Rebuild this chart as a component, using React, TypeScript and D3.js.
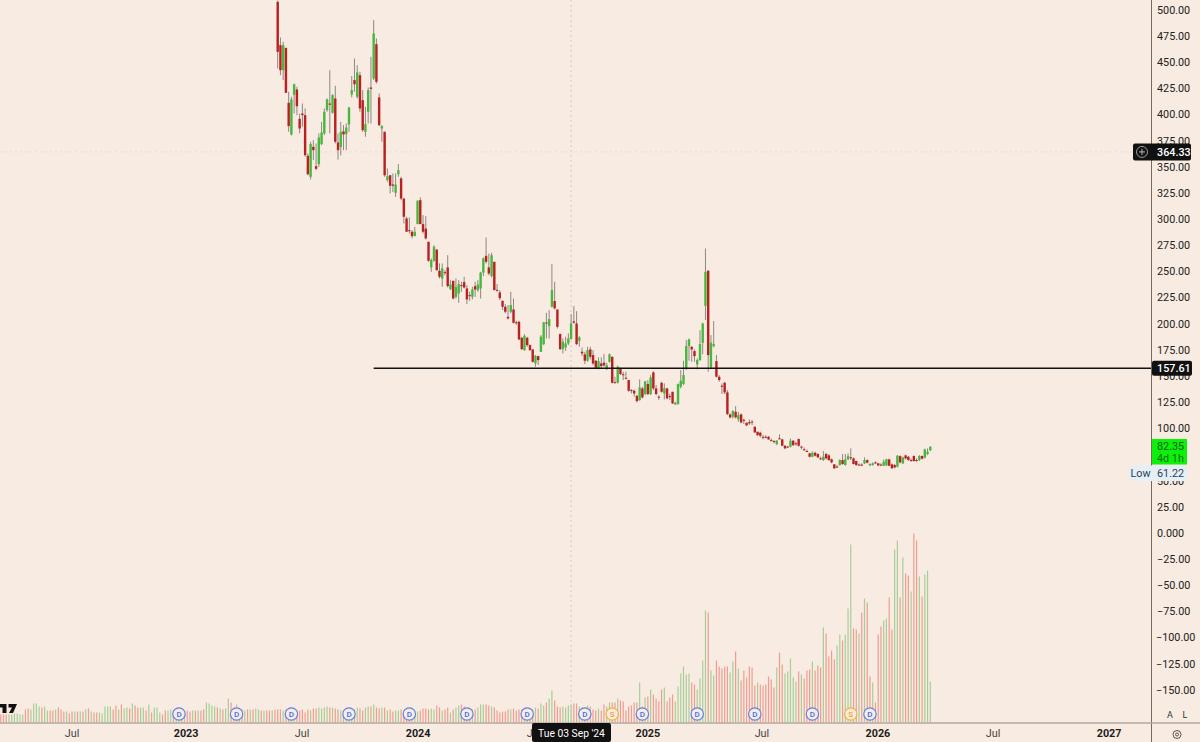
import React from "react";
import * as d3 from "d3";

const opens = [
507.8,466.4,442.5,463.8,411.3,381,419,424,396,401,
399.5,360.6,340.5,369.2,350.7,352.7,371.8,382,404.3,410.6,
401.7,415.4,373.4,369,384,381.3,390.6,419.2,433,417,
437.7,413.8,383.6,402.7,425.9,434.5,467.3,416.4,386.7,383.6,
337.4,342,333.2,325.2,343,339,319.8,300.7,289.5,288,
283.8,295.3,318.2,295.3,291,278.4,253.9,260.2,271,250.7,
243.3,249.4,253.9,233.1,241.1,225.8,229,237,239.8,233.8,
227.4,225.8,236,232.2,233.8,249,265,253.9,245.6,259.3,
232.5,230,222,216.3,206.7,211.5,213.7,201.5,201.9,186.6,
174.8,186.6,179.6,175.5,162.1,169.1,173.2,180.6,201.3,197.8,
216.3,221.7,213.7,190.2,175.8,177.4,181.2,185.4,202.3,200.3,
183.8,173.3,170.7,164.7,175.5,170.1,164.7,157.3,162.1,162.8,
157.3,163.7,168.5,144.2,143.6,157.3,151.8,148.4,146.2,136.6,
136,131.2,127.1,138.2,132.8,142.4,132.8,153.5,138.2,130.3,
143.6,133.4,138.2,130.9,135,122.9,123.3,139.8,142.4,157.3,
178.7,178,173.9,161.2,165.3,181.9,217.2,250.7,158.3,178.7,
164.3,149.4,140.8,143.6,134.4,113.4,111.1,115.9,108.6,113.4,
108.2,105.4,106,106.5,101.6,96.8,95.9,92,92,
92,89,87.9,85,90.5,89.5,83.4,82.6,82.5,88.2,
85.8,89.8,82.6,80,78.4,76.1,72.9,76.7,75.5,71.4,
69.7,75.5,74.2,70.4,65.6,63.5,65,69.7,65,70.4,
72.4,71.3,68.8,65.4,65.4,66.6,69.7,64.6,65,67.5,
66.6,65.4,64.3,64.6,70.4,65.6,65,63.4,73.5,66.6,
74.2,72.9,69.8,73.6,69.8,69.7,73.6,72,75.5,79,
];
const closes = [
460,442.5,466.4,420.8,389,414.5,429,408,386.7,399.5,
361.2,343,371.8,366,348.2,378.1,382.9,402.7,414.5,409.4,
418.6,374,366,383.5,381,387.7,406.8,423.4,429,440.3,
405.9,385.1,390.9,423.4,424.6,477.5,431.3,389.9,389,342,
341,332,332,333.2,346.9,319.8,302.3,288,288.6,283.8,
288,317.6,295.3,288,281.6,260.2,260.9,273.6,251.3,244.9,
252.9,248.8,236,237.6,224.2,235.4,237.9,236,234.7,223.3,
226.5,232.8,232.8,237.6,249,262.5,259.3,248.1,265.6,232.2,
232,224.5,216.3,211.5,205.1,217.9,201,201,185,175.8,
188.5,179.6,174.8,163.7,169.4,165.3,187.6,201.3,200.3,204.5,
232.2,214.7,197.1,175.8,182.8,181.2,186,200.3,201,180.6,
187,171.7,164.7,174.9,168.5,162.1,158,164.3,159.6,160.2,
160.5,170.7,143.6,143.6,158.9,151.9,151.2,147.5,136,135.7,
133.4,126.1,139.2,129.6,144.9,132.8,148.7,138.2,132.8,130,
135,138.2,128.7,130.3,123.9,124.5,142.4,145.5,151,178.7,
185,175.5,169.1,165.3,180.6,200.3,249.7,170.1,181.9,180.6,
149.4,146.2,139.8,134.4,113.7,110.5,116.6,110.5,112.7,105.7,
107.8,102.9,104.8,106.1,96.2,93.6,93,91.7,91.7,
89.5,88.7,87.3,88.2,90.2,83.4,80.9,82.3,88.2,84,
85.5,83.4,82.3,79.7,78.1,72.9,76.7,73.9,72.3,71.1,
72.9,71.3,69.7,67.5,61.8,63.2,69.7,65.9,70.4,73.5,
72.1,65.9,65,65.1,65.1,69.7,67.2,65.9,66.6,67.2,
64.6,65.1,68.1,70.4,64.3,61.8,62.7,73.9,67.5,72.3,
71.3,69.7,69.5,68.8,69.5,73.6,71,79.9,77.7,82.35,
];
const highs = [
509,473.7,469.6,463.8,421.8,417,429.7,426.6,401,410.6,
405.9,362.8,374,375.6,372.4,382,393,405.9,415.4,442.5,
419.5,427.5,382,393,390,391.5,407.4,436.8,453.6,447.3,
440.9,423.4,407.4,425.9,455.2,490.3,472.8,420.2,390,383.6,
348.5,342,343.7,343.7,352.6,340.5,319.8,302.3,301.6,289.5,
292.7,318.2,320.8,303.9,302.9,278.4,262.5,275.2,271,257.7,
257.7,251.3,265.6,241.7,241.1,243.3,241.7,240.2,244.9,237,
230.6,235.4,240.2,241.7,249.7,263.4,282.5,267.2,267.9,259.3,
237.9,232.2,222,218.8,217.9,230.6,224.2,203,202.9,187.6,
190.1,187.6,180.3,175.8,170.1,169.4,189.2,201.9,210.5,213.1,
257,240.2,213.7,190.8,186,187.6,190.8,209.3,216.9,212.1,
188.2,177.4,173.3,178,178,174.9,165.3,167.9,167.9,171,
162.8,171.7,168.5,149.4,160.2,158.3,154.2,154.2,146.2,137.6,
137.3,131.8,146.8,139.8,145.5,146.2,151,154.8,141.4,131.8,
144.6,143,138.9,133.4,135,125.5,143,155.7,164.7,184.4,
186,178.7,175.5,166.9,194,201,272,251.3,189.2,202.6,
170.1,151,143,144.6,136.6,114.3,117.5,121.3,115.9,114.3,
109.5,105.7,108.6,108,101.6,96.8,96.8,93.6,93.6,
92.7,90.4,88.9,88.9,94.3,90.1,84,83.1,90.4,88.9,
87.3,90.4,83.4,81.8,79.9,76.7,78,77.7,76.1,72.9,
78.3,76.7,75.5,71.3,65.9,65,70.4,75.5,75.5,76.1,
80.9,72.3,69.1,66.6,66.6,72.3,70.4,66.6,67.5,68.5,
67.2,66.6,70.4,71,71,66.6,65.9,74.5,74.2,72.9,
74.8,73.6,71.3,74.2,71.3,74.5,74.2,80.6,80.9,83.1,
];
const lows = [
444,437.7,433,420.8,383.6,380,401,399.5,382,388.3,
359.7,342,338,356.5,346.9,350,370.8,380.4,402.7,382,
401,372.4,357,361,366,366,383.6,416.4,421.8,415.4,
402.7,383.6,378.8,391.5,391.5,433,429.7,389,374,340.5,
335.8,324.6,326,321.4,340.5,318.2,295.9,288,286.3,281.6,
283.8,295.3,295.3,286.3,280.6,259.3,249.7,259.3,250.7,243.3,
235.4,246.5,234.7,232.2,223.3,224.2,220.1,230.6,233.8,218.8,
222,223.3,225.8,230.6,224.2,245.6,257.7,246.5,244.3,232.2,
230.6,222.6,213.1,209.9,204.1,209.9,200.3,199,184.4,174.8,
174.2,178,174.2,163,158.9,160.5,173.2,179.6,186,186,
215.6,213.7,195.5,174.9,171.7,174.2,179.6,185.1,200.3,179.6,
178,169.1,161.5,163.7,165.9,160.5,157.3,156.4,157.3,158.9,
155.7,162.8,143,143,143,151,146.2,146.8,135,133.4,
130.3,124.8,126.4,128.7,131.8,131.8,131.8,136.6,131.8,127.1,
134.1,127.7,127.7,127.1,123.3,122.3,122.6,138.2,141.4,155.7,
164.7,163.7,163.7,156.4,164.7,171,203.5,154.2,157.3,177.4,
148.7,144.6,132.8,132.8,112.7,109.5,109.5,109.5,106.4,104.8,
104.1,102,103.2,103.2,95.8,92.7,91.4,89.5,90.4,
88.9,87.3,85.7,84,89.5,83.1,80.2,81.2,81.8,83.1,
83.4,82.5,79.9,78.7,77.4,72.3,72.3,73.2,71.6,69.7,
68.8,70.4,69.1,66.6,61.22,62.4,64.3,65.3,64.3,69.7,
69.7,65.6,64.3,64,64,65.9,66.6,64,64.3,65.9,
64,64,64,64,64,61.5,61.8,62.7,66.6,65.9,
70.4,69.1,68.1,68.1,68.1,68.8,70.4,71.3,74.5,78.3,
];
const volumes = [
13,13,12,13,12,13,12,12,12,13,
10,13,12,14,14,15,14,15,16,15,
15,14,13,12,12,12,12,12,13,15,
14,12,15,16,16,18,15,14,15,15,
12,13,11,12,12,13,12,12,12,12,
12,11,12,14,14,13,14,13,17,15,
12,13,15,10,13,15,17,18,16,14,
13,13,13,15,18,18,18,17,16,15,
12,10,11,11,13,13,14,12,13,13,
12,11,12,13,15,14,19,17,20,24,
32,22,16,15,16,15,17,18,19,19,
16,15,15,17,16,13,12,14,12,18,
16,20,20,20,24,22,21,12,16,17,
20,20,40,16,25,26,33,28,24,21,
33,35,21,25,28,21,36,
49,56,48,49,40,38,33,44,62,112,
110,52,47,62,56,54,56,56,50,61,
71,54,42,52,45,56,55,37,40,38,
37,38,46,43,35,55,70,58,49,51,
64,45,41,51,48,44,52,53,61,52,
57,55,95,89,66,72,63,77,88,82,
88,114,178,94,93,89,110,124,120,46,
40,20,88,96,102,104,125,93,173,182,
125,165,149,147,131,189,182,146,126,148,
152,41,
];
// Colours of the last 92 volume bars
const lateVolumeUp = [
1,1,1,1,0,0,1,1,1,1,
0,1,1,0,0,0,0,0,1,1,
0,1,0,0,0,0,0,0,1,0,
0,0,0,0,0,1,0,0,1,1,
1,1,1,0,1,0,0,0,1,0,
0,0,1,0,0,0,0,1,1,0,
1,1,1,0,0,1,0,1,0,0,
1,0,0,0,1,1,0,0,1,1,
0,1,0,0,1,0,0,1,0,1,
1,1,
];
const earlierVolumes = [
8,8,8,8,8,9,9,8,8,13,
14,13,19,19,16,15,16,12,12,12,
13,15,13,11,11,9,11,11,11,11,
11,13,14,11,10,10,10,9,16,16,
16,13,17,13,18,14,15,14,19,17,
15,15,15,12,18,10,15,15,10,8,
12,12,13,12,12,12,10,11,12,11,
12,12,12,12,13,20,19,17,16,15,
14,13,14,24,20,15,18,13,13,12,
13,13,13,14,13,12,12,12,12,12,13,
];
const earlierVolumeUp = [
0,0,0,1,1,1,1,1,1,0,
0,1,1,1,1,0,1,1,0,0,
1,0,0,0,1,0,0,1,0,1,
0,1,0,1,0,0,1,1,1,1,
1,0,0,1,0,1,1,0,1,0,
0,1,1,0,1,0,1,1,1,0,
0,1,1,0,1,1,0,1,0,0,
1,0,1,0,0,1,1,1,1,0,
1,0,1,1,0,0,1,0,0,1,
0,1,0,1,1,0,1,0,0,1,0,
];
const dividendBars = [-36,-15,5,26,48,69,91,112,133,153,174,195,216];
const splitBars = [122,209];
const timeTickBars = [-75,-33.4,8.9,51.2,93.5,135,176.6,218.9,260.9,303.2];
const timeTickLabels = ["Jul","2023","Jul","2024","Jul","2025","Jul","2026","Jul","2027"];
const priceTicks = d3.range(25, 501, 25);
const lowerTicks = [0,-25,-50,-75,-100,-125,-150];
const levelPrice = 157.61;
const levelStartBar = 35;
const crosshairPrice = 364.33;
const crosshairBar = 107;
const lastPrice = 82.35;
const lowPrice = 61.22;

const BG = "#f8ebe1";
const FONT = "Roboto, 'Liberation Sans', sans-serif";
const RED = "#b9201f";
const GREEN = "#47b83d";
const VOL_UP = "#a6cf98";
const VOL_DOWN = "#f09c8e";
const W = 1200, H = 742, AXIS_X = 1151.5, BASE_Y = 722.5;

export default function App() {
  const x = d3.scaleLinear().domain([0, 238]).range([277.7, 930.3]);
  const y = d3.scaleLinear().domain([0, 500]).range([533, 10]);
  const v = d3.scaleLinear().domain([0, 189]).range([BASE_Y, BASE_Y - 189]);
  const fmt = d3.format(".2f");
  const axisText = (p: number) => (p === 0 ? "0.000" : fmt(p).replace("-", "\u2212"));
  const isUp = (i: number) => closes[i] >= opens[i];
  const lateStart = volumes.length - lateVolumeUp.length;
  const volUp = (i: number) => (i >= lateStart ? !!lateVolumeUp[i - lateStart] : isUp(i));
  return (
    <svg width={W} height={H} viewBox={`0 0 ${W} ${H}`} style={{ position: "absolute", left: 0, top: 0, background: BG, fontFamily: FONT }}>
      <rect width={W} height={H} fill={BG} />
      {/* crosshair */}
      <line x1={x(crosshairBar)} x2={x(crosshairBar)} y1={0} y2={BASE_Y} stroke="#d3cbc3" strokeDasharray="2 3" />
      <line x1={0} x2={AXIS_X} y1={y(crosshairPrice)} y2={y(crosshairPrice)} stroke="#e6dcd3" strokeDasharray="2 3" />
      {/* volume */}
      <g>
        {earlierVolumes.map((d, k) => {
          const xx = x(k - earlierVolumes.length);
          return <line key={k} x1={xx} x2={xx} y1={BASE_Y} y2={v(d)} strokeWidth={1.2} stroke={earlierVolumeUp[k] ? VOL_UP : VOL_DOWN} />;
        })}
        {volumes.map((d, i) => (
          <line key={i} x1={x(i)} x2={x(i)} y1={BASE_Y} y2={v(d)} strokeWidth={1.2} stroke={volUp(i) ? VOL_UP : VOL_DOWN} />
        ))}
      </g>
      {/* candles */}
      <g>
        {opens.map((o, i) => {
          const top = y(Math.max(o, closes[i]));
          const bot = y(Math.min(o, closes[i]));
          return (
            <g key={i}>
              <line x1={x(i)} x2={x(i)} y1={y(highs[i])} y2={y(lows[i])} stroke="#8c8883" strokeWidth={1} />
              <rect x={x(i) - 1.2} width={2.4} y={top} height={Math.max(bot - top, 1)} fill={isUp(i) ? GREEN : RED} />
            </g>
          );
        })}
      </g>
      {/* horizontal level */}
      <line x1={x(levelStartBar)} x2={AXIS_X} y1={y(levelPrice)} y2={y(levelPrice)} stroke="#111" strokeWidth={1.5} />
      {/* badges */}
      {dividendBars.map((b) => (
        <g key={b} transform={`translate(${x(b)},714)`}>
          <circle r={6.2} fill={BG} stroke="#5b83e8" strokeWidth={1.2} />
          <text textAnchor="middle" y={3} fontSize={8} fontWeight={500} fill="#3f6fe0">D</text>
        </g>
      ))}
      {splitBars.map((b) => (
        <g key={b} transform={`translate(${x(b)},714)`}>
          <circle r={6.2} fill={BG} stroke="#f5b03e" strokeWidth={1.2} />
          <text textAnchor="middle" y={3} fontSize={8} fontWeight={500} fill="#ef9f1e">S</text>
        </g>
      ))}
      {/* logo fragment */}
      <path d="M0 704H6.5V713H2.5V707.5H0ZM8.5 704H17L13 713H9L12 707.5H8.5Z" fill="#111" />
      {/* axes */}
      <line x1={AXIS_X} x2={AXIS_X} y1={0} y2={H} stroke="#6f6a66" strokeWidth={1} />
      <line x1={0} x2={W} y1={BASE_Y + 0.5} y2={BASE_Y + 0.5} stroke="#b3a89f" strokeWidth={1.5} />
      {priceTicks.map((p) => (
        <text key={p} x={1157} y={y(p) + 3.8} fontSize={10.8} fill="#222">{axisText(p)}</text>
      ))}
      {lowerTicks.map((p) => (
        <text key={p} x={p <= -100 ? 1156 : 1157} y={y(p) + 3.8} fontSize={10.8} fill="#222">{axisText(p)}</text>
      ))}
      <text x={1170} y={718} textAnchor="middle" fontSize={9} fill="#333">A</text>
      <text x={1185} y={718} textAnchor="middle" fontSize={9} fill="#333">L</text>
      <g transform="translate(1177,734.5)" fill="none" stroke="#555">
        <circle r={4} strokeWidth={1} />
        <circle r={1.5} strokeWidth={1} />
      </g>
      {timeTickLabels.map((t, i) => (
        <text key={i} x={x(timeTickBars[i])} y={736.5} textAnchor="middle" fontSize={10.8}
          fontWeight={/^\d/.test(t) ? 700 : 400} fill={/^\d/.test(t) ? "#1c1c1c" : "#444"}>{t}</text>
      ))}
      {/* date label */}
      <rect x={532} y={723} width={79} height={19} rx={2} fill="#111" />
      <text x={571.5} y={736.5} textAnchor="middle" fontSize={10.3} fill="#fff">Tue 03 Sep '24</text>
      {/* crosshair price */}
      <rect x={1133} y={y(crosshairPrice) - 8.5} width={58} height={17} rx={2} fill="#111" />
      <circle cx={1142} cy={y(crosshairPrice)} r={5.5} fill="none" stroke="#999" strokeWidth={1} />
      <path d={`M1139 ${y(crosshairPrice)}h6M1142 ${y(crosshairPrice) - 3}v6`} stroke="#bbb" strokeWidth={1} />
      <text x={1157} y={y(crosshairPrice) + 3.8} fontSize={10.8} fontWeight={500} fill="#fff">{fmt(crosshairPrice)}</text>
      {/* level price */}
      <rect x={1152} y={y(levelPrice) - 7.5} width={40} height={15} rx={2} fill="#111" />
      <text x={1157} y={y(levelPrice) + 3.8} fontSize={10.8} fontWeight={500} fill="#fff">{fmt(levelPrice)}</text>
      {/* last price */}
      <rect x={1152} y={439} width={35} height={25.5} fill="#0cf00c" />
      <text x={1157} y={449.5} fontSize={10.8} fill="#0c5c0c">{fmt(lastPrice)}</text>
      <text x={1157} y={462} fontSize={10.8} fill="#0c6e0c">4d 1h</text>
      {/* low */}
      <rect x={1129} y={465.5} width={58} height={15.5} fill="#e5eff8" />
      <text x={1130.5} y={477} fontSize={10.8} fill="#2c3e50">Low</text>
      <text x={1157} y={477} fontSize={10.8} fill="#2c3e50">{fmt(lowPrice)}</text>
    </svg>
  );
}
